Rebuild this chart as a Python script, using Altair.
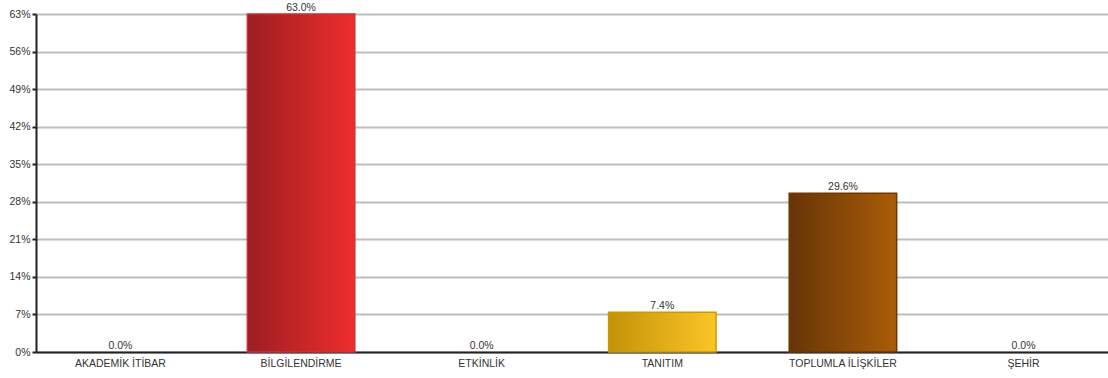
import altair as alt
import pandas as pd

# Category names and percentage shares
categories = ["AKADEMİK İTİBAR", "BİLGİLENDİRME", "ETKİNLİK", "TANITIM", "TOPLUMLA İLİŞKİLER", "ŞEHİR"]
values = [0.0, 63.0, 0.0, 7.4, 29.6, 0.0]

# Horizontal gradient (left colour, right colour, outline) for each non-empty bar
bar_styles = {
    "BİLGİLENDİRME": ("#9c1e21", "#ef2d2d", "#c9343a"),
    "TANITIM": ("#c4920a", "#fbc527", "#c99a05"),
    "TOPLUMLA İLİŞKİLER": ("#663507", "#aa5c08", "#6a3806"),
}

y_ticks = [0, 7, 14, 21, 28, 35, 42, 49, 56, 63]
FONT = "Liberation Sans, Arial, sans-serif"

df = pd.DataFrame({"cat": categories, "val": values})

x_enc = alt.X(
    "cat:N",
    sort=categories,
    scale=alt.Scale(domain=categories, paddingInner=0.405, paddingOuter=0.17),
    axis=alt.Axis(
        title=None, labelAngle=0, ticks=False, domainColor="#222", domainWidth=2,
        labelFont=FONT, labelFontSize=10.5, labelColor="#333", labelPadding=6, grid=False,
    ),
)
y_enc = alt.Y(
    "val:Q",
    scale=alt.Scale(domain=[0, 63], nice=False),
    axis=alt.Axis(
        title=None, values=y_ticks, labelExpr="datum.value + '%'",
        domainColor="#222", domainWidth=2, tickColor="#222", tickWidth=2, tickSize=4,
        labelFont=FONT, labelFontSize=10.5, labelColor="#333", labelPadding=2,
        grid=True, gridColor="#bdbdbd", gridWidth=2,
    ),
)

base = alt.Chart(df)

layers = []
for cat, (c0, c1, edge) in bar_styles.items():
    grad = alt.Gradient(
        gradient="linear",
        stops=[alt.GradientStop(color=c0, offset=0), alt.GradientStop(color=c1, offset=1)],
        x1=0, x2=1, y1=0, y2=0,
    )
    layers.append(
        base.transform_filter(alt.datum.cat == cat)
        .mark_bar(color=grad, stroke=edge, strokeWidth=1.5)
        .encode(x=x_enc, y=y_enc)
    )

labels = base.mark_text(
    baseline="bottom", dy=-1, font=FONT, fontSize=10.5, color="#333"
).transform_calculate(
    lbl="format(datum.val, '.1f') + '%'"
).encode(x=x_enc, y=y_enc, text="lbl:N")

chart = alt.layer(*layers, labels).properties(
    width=1072, height=338,
    autosize=alt.AutoSizeParams(type="none"),
    padding={"left": 36, "top": 14, "right": 0, "bottom": 26},
).configure_view(stroke=None).configure(background="white")

chart.save("out.html", embed_options={"renderer": "svg", "actions": False})
